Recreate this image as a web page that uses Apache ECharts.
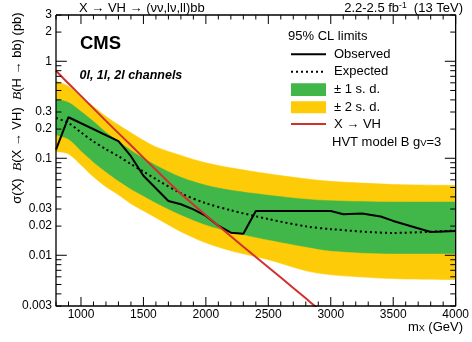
<!DOCTYPE html>
<html><head><meta charset="utf-8">
<script src="https://cdn.jsdelivr.net/npm/echarts@6/dist/echarts.min.js"></script>
<style>html,body{margin:0;padding:0;background:#fff}#c{width:472px;height:342px}</style>
</head><body><div id="c"></div>
<script>
// ---- data ----
const massGrid = [800, 900, 1000, 1100, 1200, 1300, 1400, 1500, 1600, 1800, 2000, 2200, 2500, 2800, 3000, 3500, 4000];
const expectedLimit = [0.26, 0.231, 0.185, 0.149, 0.124, 0.105, 0.087, 0.073, 0.061, 0.0436, 0.0344, 0.0291, 0.0236, 0.0199, 0.0186, 0.0170, 0.0180];
const plus1Sigma  = [0.404, 0.376, 0.304, 0.240, 0.185, 0.149, 0.1205, 0.0998, 0.0845, 0.0636, 0.0527, 0.0468, 0.0416, 0.0378, 0.0365, 0.0354, 0.0354];
const minus1Sigma = [0.172, 0.156, 0.118, 0.0907, 0.0716, 0.0578, 0.0478, 0.0405, 0.0344, 0.0258, 0.0204, 0.0173, 0.0143, 0.0121, 0.0110, 0.0103, 0.0103];
const plus2Sigma  = [0.622, 0.553, 0.433, 0.342, 0.270, 0.221, 0.183, 0.153, 0.131, 0.107, 0.0897, 0.0797, 0.0691, 0.0614, 0.0578, 0.0538, 0.0526];
const minus2Sigma = [0.116, 0.1096, 0.0845, 0.0636, 0.0502, 0.0415, 0.0336, 0.0284, 0.0241, 0.0173, 0.0133, 0.0110, 0.0089, 0.00686, 0.00624, 0.00568, 0.00554];

const obsMass  = [800, 900, 1300, 1400, 1500, 1700, 1800, 1900, 2000, 2100, 2200, 2300, 2400, 3000, 3100, 3250, 3400, 3500, 3800, 4000];
const obsLimit = [0.123, 0.265, 0.15, 0.105, 0.066, 0.0363, 0.0336, 0.0297, 0.0255, 0.0202, 0.0171, 0.0167, 0.0286, 0.0286, 0.0265, 0.027, 0.0251, 0.0226, 0.0174, 0.0178];

const theoryMass = [800, 900, 1000, 1200, 1400, 1600, 1800, 2000, 2200, 2400, 2600, 2800, 2900];
const theoryXsec = [0.80, 0.59, 0.44, 0.243, 0.136, 0.076, 0.043, 0.0259, 0.0157, 0.0096, 0.0059, 0.0036, 0.0028];

const xTickLabels = [1000, 1500, 2000, 2500, 3000, 3500, 4000];
const yTickLabels = ['0.003', '0.01', '0.02', '0.03', '0.1', '0.2', '0.3', '1', '2', '3'];
const yMajorTicks = [0.01, 0.1, 1];
const yMinorTicks = [0.003,0.004,0.005,0.006,0.007,0.008,0.009,0.02,0.03,0.04,0.05,0.06,0.07,0.08,0.09,0.2,0.3,0.4,0.5,0.6,0.7,0.8,0.9,2,3];
const xMinorTicks = [];
for (let m = 800; m <= 4000; m += 100) xMinorTicks.push(m);

// ---- build ----
const X_MIN = 800, X_MAX = 4000, Y_MIN = 0.003, Y_MAX = 3;
const FONT = 'Liberation Sans, Arial, Helvetica, sans-serif';
const GREEN = '#41b649', YELLOW = '#fdcb08', RED = '#d22f2f';
const pairs = (xs, ys) => xs.map((x, i) => [x, ys[i]]);

const lineCommon = {type: 'line', xAxisIndex: 0, yAxisIndex: 0, symbol: 'none', silent: true, clip: true};
const band = (name, ys, color) => Object.assign({}, lineCommon, {
  name, smooth: 0.3, data: pairs(massGrid, ys), lineStyle: {color, width: 0.5},
  areaStyle: {color, opacity: 1, origin: 'start'}});

// tick marks and frame as broken line series in axis units (tick length ~ fraction of a decade / of the mass range)
const PX_PER_DECADE = 97, MASS_PER_PX = 3200 / 406;
const xTickData = [];
xMinorTicks.forEach(v => {
  const len = xTickLabels.indexOf(v) >= 0 ? 9 : 4.5;
  const f = Math.pow(10, len / PX_PER_DECADE);
  xTickData.push([v, Y_MIN], [v, Y_MIN * f], [v, '-'], [v, Y_MAX], [v, Y_MAX / f], [v, '-']);
});
const yTickData = [];
yMinorTicks.concat(yMajorTicks).forEach(v => {
  const len = yMajorTicks.indexOf(v) >= 0 ? 11 : 5.5;
  const d = len * MASS_PER_PX;
  yTickData.push([X_MIN, v], [X_MIN + d, v], [X_MIN, '-'], [X_MAX, v], [X_MAX - d, v], [X_MAX, '-']);
});
const frameData = [[X_MIN, Y_MAX], [X_MAX, Y_MAX], [X_MAX, Y_MIN], [X_MIN, Y_MIN], [X_MIN, Y_MAX]];
const deco = (name, data, width) => ({type: 'line', name, data, symbol: 'none', silent: true, clip: false, z: 20,
  connectNulls: false, lineStyle: {color: '#000', width}});

const yLabelSeries = {type: 'custom', clip: false, z: 20, data: yTickLabels.map(s => [X_MIN, Number(s)]),
  renderItem: (params, api) => {
    const c = api.coord([X_MIN, api.value(1)]);
    return {type: 'text', x: c[0] - 4, y: c[1],
      style: {text: yTickLabels[params.dataIndex], align: 'right', verticalAlign: 'middle', font: '12px ' + FONT, fill: '#000'}};
  }};

const series = [
  band('± 2 s. d.', plus2Sigma, YELLOW),
  band('± 1 s. d.', plus1Sigma, GREEN),
  band('-1 s. d.', minus1Sigma, YELLOW),
  band('-2 s. d.', minus2Sigma, '#ffffff'),
  Object.assign({}, lineCommon, {name: 'Expected', smooth: 0.3, data: pairs(massGrid, expectedLimit), lineStyle: {color: '#000', width: 2, type: [2, 3], cap: 'butt'}}),
  Object.assign({}, lineCommon, {name: 'Observed', data: pairs(obsMass, obsLimit), lineStyle: {color: '#000', width: 2}}),
  Object.assign({}, lineCommon, {name: 'X → VH', smooth: 0.3, data: pairs(theoryMass, theoryXsec), lineStyle: {color: RED, width: 2}}),
  deco('xticks', xTickData, 1),
  deco('yticks', yTickData, 1),
  deco('frame', frameData, 1.3),
  yLabelSeries
];

let gid = 0;
const T = (x, y, text, extra) => ({id: 'g' + (gid++), type: 'text', x, y, silent: true, z: 100,
  style: Object.assign({text, fill: '#000', font: '13px ' + FONT, align: 'left', verticalAlign: 'middle'}, extra || {})});
const L = (x1, y1, x2, y2, style) => ({id: 'g' + (gid++), type: 'line', silent: true, z: 100,
  shape: {x1, y1, x2, y2}, style: Object.assign({stroke: '#000', lineWidth: 1}, style || {})});
const R = (x, y, w, h, style) => ({id: 'g' + (gid++), type: 'rect', silent: true, z: 100,
  shape: {x, y, width: w, height: h}, style});

const graphic = [
  T(79, 8, 'X → VH → (νν,lν,ll)bb'),
  T(463, 8, '2.2-2.5 fb{sup|-1}  (13 TeV)', {align: 'right', rich: {sup: {fontSize: 8.5, fontFamily: FONT, verticalAlign: 'top', lineHeight: 8, fill: '#000'}}}),
  T(80, 43.5, 'CMS', {font: 'bold 18.5px ' + FONT}),
  T(79.5, 76, '0l, 1l, 2l channels', {font: 'italic bold 12.5px ' + FONT}),
  {id: 'g' + (gid++), type: 'text', x: 17, y: 108, rotation: Math.PI / 2, silent: true, z: 100,
   style: {text: 'σ(X)  {i|B}(X → VH)  {i|B}(H → bb) (pb)', fill: '#000', font: '13px ' + FONT, align: 'center', verticalAlign: 'middle',
           rich: {i: {fontStyle: 'italic', fontSize: 13.5, fontFamily: 'Liberation Serif, serif', fill: '#000'}}}},
  T(463, 327, 'm{sub|X} (GeV)', {align: 'right', rich: {sub: {fontSize: 9, fontFamily: FONT, verticalAlign: 'bottom', lineHeight: 8, fill: '#000'}}}),
  T(288, 36, '95% CL limits'),
  L(291, 54.3, 326, 54.3, {lineWidth: 2}),
  T(334, 54.3, 'Observed'),
  L(291, 71.7, 326, 71.7, {lineWidth: 2, lineDash: [2, 3]}),
  T(334, 71.7, 'Expected'),
  R(291, 83.3, 35, 12.7, {fill: GREEN}),
  T(334, 89.5, '± 1 s. d.'),
  R(291, 101.3, 35, 12, {fill: YELLOW}),
  T(334, 107.3, '± 2 s. d.'),
  L(291, 124, 326, 124, {stroke: RED, lineWidth: 2}),
  T(334, 124, 'X → VH'),
  T(332, 142, 'HVT model B g{sub|V}=3', {rich: {sub: {fontSize: 9.5, fontFamily: FONT, verticalAlign: 'bottom', lineHeight: 8, fill: '#000'}}})
];

const chart = echarts.init(document.getElementById('c'), null, {renderer: 'canvas'});
chart.setOption({
  animation: false,
  backgroundColor: '#fff',
  grid: {left: 56, right: 10, top: 15, bottom: 36},
  xAxis: {type: 'value', min: X_MIN, max: X_MAX, interval: 100, splitLine: {show: false},
    axisLine: {show: false, onZero: false}, axisTick: {show: false},
    axisLabel: {show: true, formatter: v => (xTickLabels.indexOf(v) >= 0 ? String(v) : ''), color: '#000', fontSize: 12, fontFamily: FONT, margin: 3}},
  yAxis: {type: 'log', logBase: 10, min: Y_MIN, max: Y_MAX, splitLine: {show: false},
    axisLine: {show: false, onZero: false}, axisTick: {show: false}, axisLabel: {show: false}},
  series: series,
  graphic: graphic
});
</script>
</body></html>
